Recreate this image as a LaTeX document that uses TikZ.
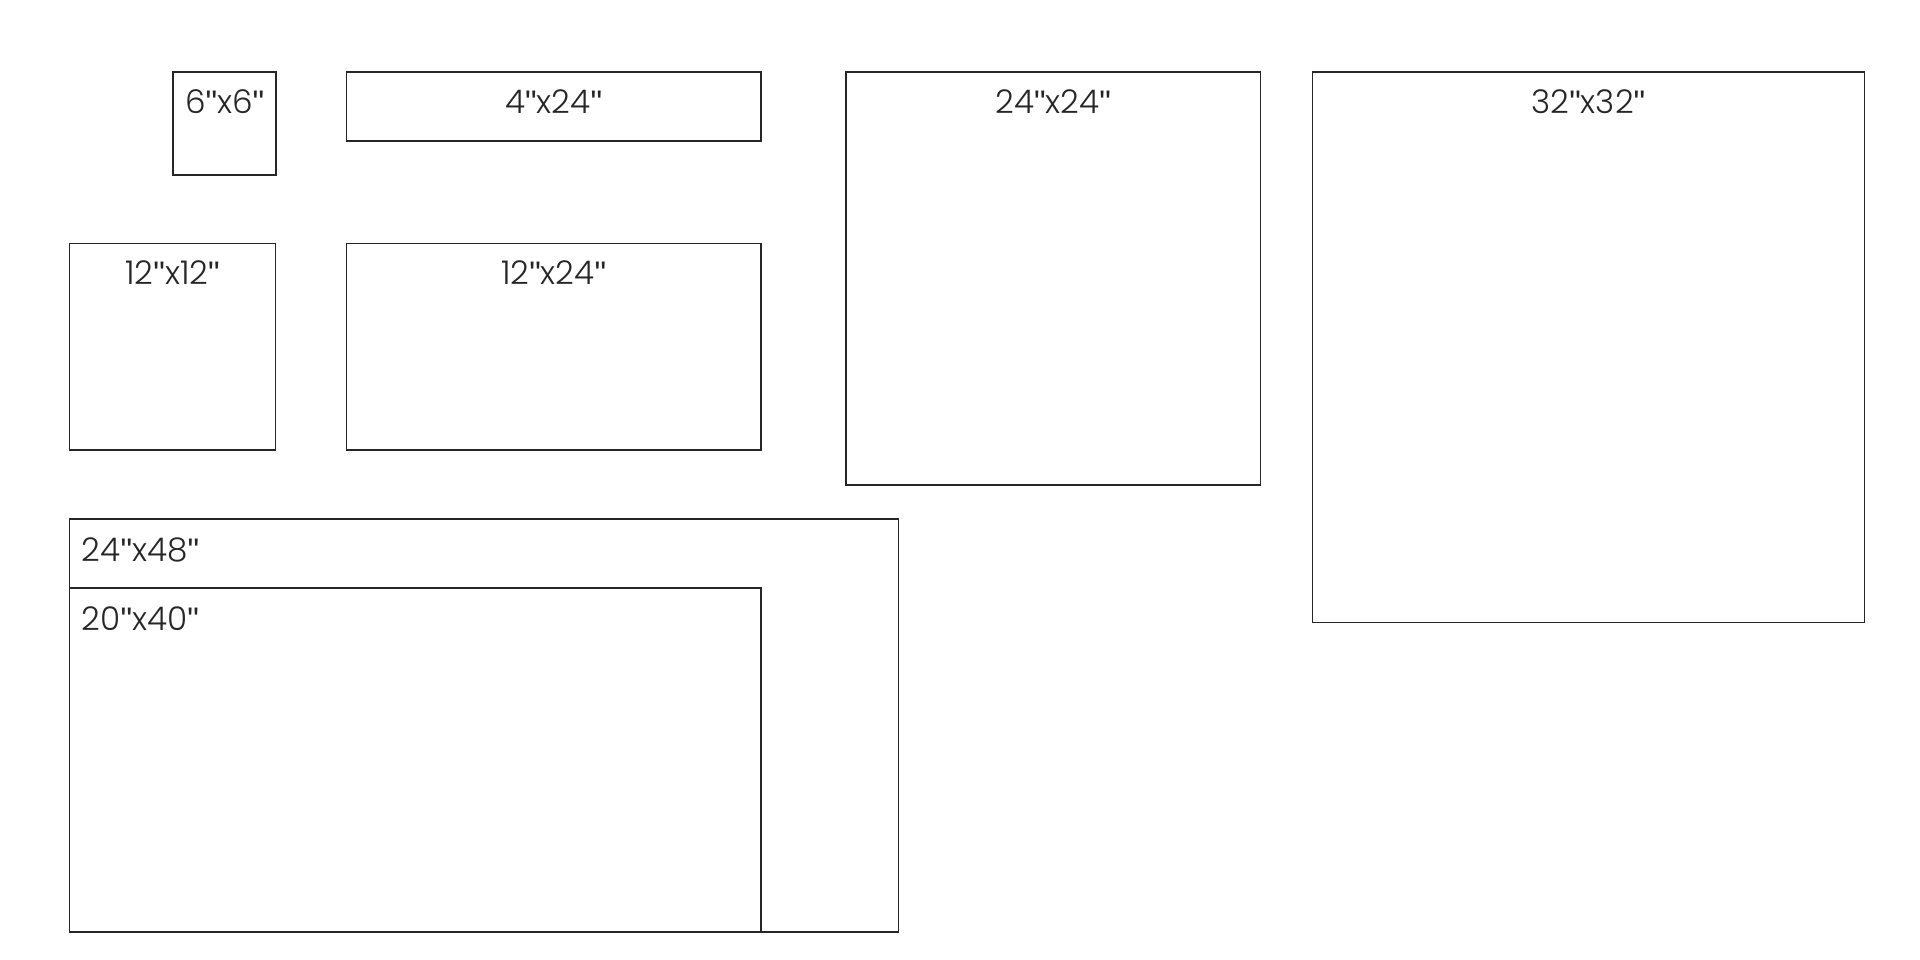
\documentclass[tikz,border=0pt]{standalone}
\usepackage{fontspec}
\setmainfont{Poppins Light}
\newfontfamily\tickfont{Liberation Sans}
\usepackage{tikz}
\usetikzlibrary{positioning}
\usepackage{xcolor}
\colorlet{myline}{black!85}
\newcommand{\inch}{{\tickfont"}}
\tikzstyle{frame}=[draw=myline, rectangle, line width=1.3pt, inner sep=0pt, outer sep=0pt, anchor=north west]
\tikzstyle{tag}=[inner sep=0pt, font=\fontsize{27}{32}\selectfont, text=black!85]
\tikzstyle{top tag}=[tag, anchor=base]
\tikzstyle{side tag}=[tag, anchor=base west]

\begin{document}
\begin{tikzpicture}[x=0.5cm, y=-0.5cm]
\useasboundingbox (0,0) rectangle (111.63,55.81);

% Small sizes
\node[frame, minimum width=3cm, minimum height=3cm] (p6x6) at (10.06,4.19) {};
\node[frame, minimum width=12.05cm, minimum height=2cm] (p4x24) at (20.14,4.19) {};
\node[frame, minimum width=6cm, minimum height=6cm] (p12x12) at (4.03,14.16) {};
\node[frame, minimum width=12.05cm, minimum height=6cm] (p12x24) at (20.14,14.16) {};

% Large sizes
\node[frame, minimum width=12.05cm, minimum height=12cm] (p24x24) at (49.18,4.19) {};
\node[frame, minimum width=16.05cm, minimum height=16cm] (p32x32) at (76.3,4.19) {};
\node[frame, minimum width=24.1cm, minimum height=12cm] (p24x48) at (4.03,30.19) {};
\node[frame, minimum width=20.1cm, minimum height=10cm] (p20x40) at (4.03,34.2) {};

% Labels
\node[top tag] (t6x6) at ([yshift=-1.2cm]p6x6.north) {6\inch x6\inch};
\node[top tag] (t4x24) at ([yshift=-1.2cm]p4x24.north) {4\inch x24\inch};
\node[top tag] (t12x12) at ([yshift=-1.2cm]p12x12.north) {12\inch x12\inch};
\node[top tag] (t12x24) at ([yshift=-1.2cm]p12x24.north) {12\inch x24\inch};
\node[top tag] (t24x24) at ([yshift=-1.2cm]p24x24.north) {24\inch x24\inch};
\node[top tag] (t32x32) at ([yshift=-1.2cm]p32x32.north) {32\inch x32\inch};
\node[side tag] (t24x48) at ([xshift=0.36cm, yshift=-1.22cm]p24x48.north west) {24\inch x48\inch};
\node[side tag] (t20x40) at ([xshift=0.36cm, yshift=-1.22cm]p20x40.north west) {20\inch x40\inch};

\end{tikzpicture}
\end{document}
